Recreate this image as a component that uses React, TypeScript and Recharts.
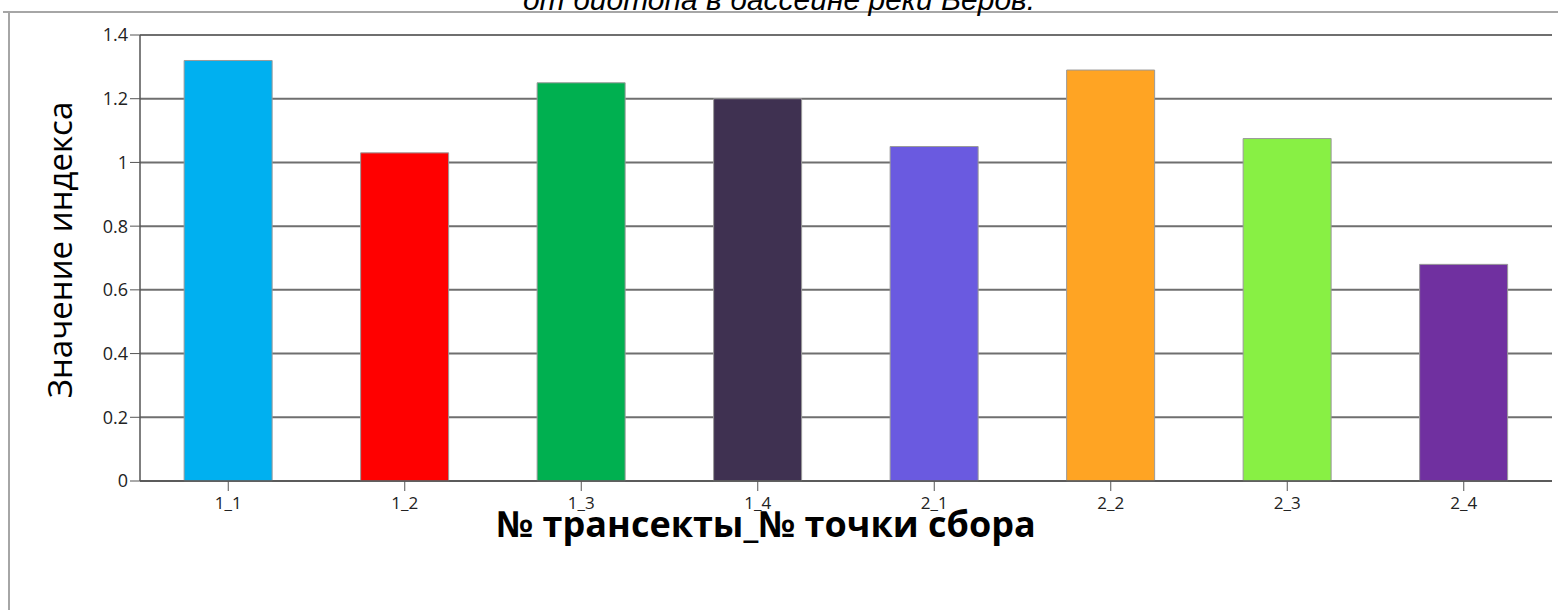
import React from "react";
import { BarChart, Bar, XAxis, YAxis, CartesianGrid, Cell } from "recharts";

const categories = ["1_1", "1_2", "1_3", "1_4", "2_1", "2_2", "2_3", "2_4"];
const values = [1.32, 1.03, 1.25, 1.2, 1.05, 1.29, 1.075, 0.68];
const colors = ["#00B0F0", "#FF0000", "#00B050", "#3F3151", "#6A5AE0", "#FFA423", "#88F044", "#7030A0"];
const yTicks = [0, 0.2, 0.4, 0.6, 0.8, 1, 1.2, 1.4];
const titleText = "от биотопа в бассейне реки Веров.";
const xTitle = "№ трансекты_№ точки сбора";
const yTitle = "Значение индекса";

const data = categories.map((c, i) => ({ name: c, value: values[i] }));

const font = "Open Sans, sans-serif";

export default function App() {
  return (
    <div style={{ position: "absolute", left: 0, top: 0, width: 1558, height: 610, background: "#fff", overflow: "hidden" }}>
      <svg width={1558} height={610} style={{ position: "absolute", left: 0, top: 0 }}>
        <line x1={3} y1={12} x2={1558} y2={12} stroke="#a6a6a6" strokeWidth={2} />
        <line x1={9} y1={12} x2={9} y2={610} stroke="#a6a6a6" strokeWidth={2} />
        <text x={779} y={10} textAnchor="middle" fontFamily="Liberation Sans, Arial, sans-serif" fontStyle="italic" fontSize={30} fill="#000">
          {titleText}
        </text>
        <text x={766} y={537} textAnchor="middle" fontFamily={font} fontWeight={700} fontSize={36} fill="#000">
          {xTitle}
        </text>
        <text x={72} y={250} textAnchor="middle" fontFamily={font} fontSize={33} fill="#000" transform="rotate(-90, 72, 250)">
          {yTitle}
        </text>
      </svg>
      <div style={{ position: "absolute", left: 0, top: 0 }}>
        <BarChart
          width={1558}
          height={610}
          data={data}
          margin={{ top: 35, right: 6, bottom: 99, left: 80 }}
          barCategoryGap="25%"
        >
          <CartesianGrid vertical={false} stroke="#6f6f6f" strokeWidth={2} />
          <XAxis
            dataKey="name"
            height={30}
            tickSize={10}
            tickLine={{ stroke: "#555" }}
            axisLine={{ stroke: "#555", strokeWidth: 1.5 }}
            tick={{ fontSize: 17, fill: "#222", fontFamily: font, dy: 4 }}
            interval={0}
          />
          <YAxis
            width={60}
            domain={[0, 1.4]}
            ticks={yTicks}
            tickSize={10}
            tickLine={{ stroke: "#555" }}
            axisLine={{ stroke: "#555", strokeWidth: 1.5 }}
            tick={{ fontSize: 18, fill: "#222", fontFamily: font }}
            tickFormatter={(v: number) => String(v)}
          />
          <Bar dataKey="value" isAnimationActive={false} stroke="#9a9a9a" strokeWidth={1}>
            {data.map((d, i) => (
              <Cell key={d.name} fill={colors[i]} />
            ))}
          </Bar>
        </BarChart>
      </div>
    </div>
  );
}
